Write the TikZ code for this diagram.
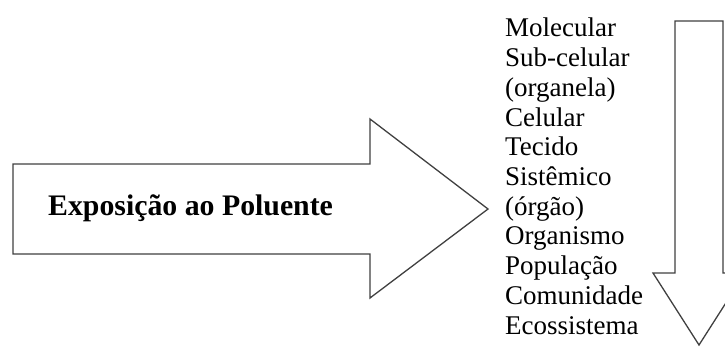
\documentclass[tikz,border=0pt]{standalone}
\usepackage{fontspec}
\setmainfont{Liberation Serif}
\tikzstyle{bigarrow} = [draw=black!75, line width=1.3pt, fill=white, line join=miter]
\tikzstyle{level} = [anchor=base west, inner sep=0pt, font=\fontsize{27}{30}\selectfont]

\begin{document}
\begin{tikzpicture}[x=1pt, y=1pt]
    \useasboundingbox (0,0) rectangle (725,354);
    \clip (0,0) rectangle (725,354);

    % exposure arrow
    \path[bigarrow] (13,190) -- (370,190) -- (370,235) -- (488,145) -- (370,56) -- (370,100) -- (13,100) -- cycle;
    \node[anchor=base west, inner sep=0pt, font=\bfseries\fontsize{29.8}{32}\selectfont] (expo) at (48,139) {Exposição ao Poluente};

    % levels arrow
    \path[bigarrow] (675,333) -- (723,333) -- (723,81) -- (745,81) -- (699,9) -- (653,81) -- (675,81) -- cycle;

    \foreach \name [count=\i from 0] in {Molecular, Sub-celular, {(organela)}, Celular, Tecido, Sistêmico, {(órgão)}, Organismo, População, Comunidade, Ecossistema}
        \node[level] (lev\i) at (505,317-29.7*\i) {\name};

\end{tikzpicture}
\end{document}
